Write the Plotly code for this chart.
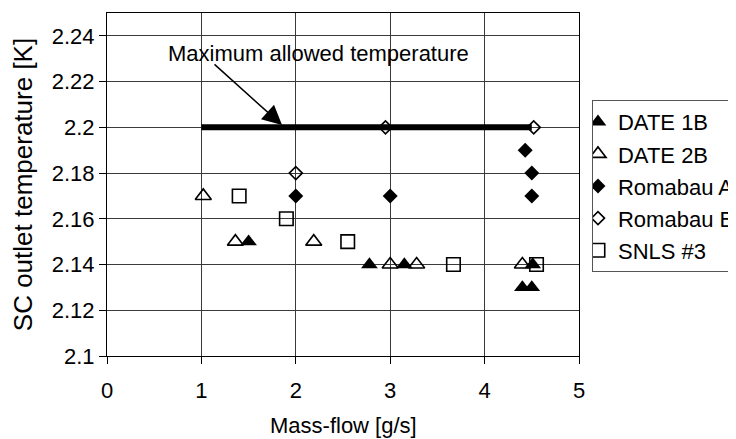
import plotly.graph_objects as go

# Data
date1b_x = [1.50, 2.78, 3.15, 4.51, 4.40, 4.50]
date1b_y = [2.15, 2.14, 2.14, 2.14, 2.13, 2.13]

date2b_x = [1.02, 1.36, 2.19, 3.00, 3.28, 4.40]
date2b_y = [2.17, 2.15, 2.15, 2.14, 2.14, 2.14]

romA_x = [2.00, 3.00, 4.43, 4.50, 4.50]
romA_y = [2.17, 2.17, 2.19, 2.18, 2.17]

romB_x = [2.00, 2.95, 4.52]
romB_y = [2.18, 2.20, 2.20]

snls_x = [1.40, 1.90, 2.55, 3.67, 4.55]
snls_y = [2.17, 2.16, 2.15, 2.14, 2.14]

maxT_x = [1.0, 4.5]
maxT_y = [2.2, 2.2]

x_ticks = [0, 1, 2, 3, 4, 5]
y_ticks = [2.10, 2.12, 2.14, 2.16, 2.18, 2.20, 2.22, 2.24]
y_tick_text = ["2.1", "2.12", "2.14", "2.16", "2.18", "2.2", "2.22", "2.24"]

FONT = "Liberation Sans, Arial, sans-serif"
GRID = "#3a3a3a"

fig = go.Figure()

fig.add_trace(go.Scatter(
    x=maxT_x, y=maxT_y, mode="lines", line=dict(color="black", width=6),
    showlegend=False, hoverinfo="skip"))

fig.add_trace(go.Scatter(
    x=date1b_x, y=date1b_y, mode="markers", name="DATE 1B", legendgroup="a",
    marker=dict(symbol="triangle-up", size=14.5, color="black")))
fig.add_trace(go.Scatter(
    x=date2b_x, y=date2b_y, mode="markers", name="DATE 2B", legendgroup="b",
    marker=dict(symbol="triangle-up-open", size=14, color="black", line=dict(width=1.6))))
fig.add_trace(go.Scatter(
    x=romA_x, y=romA_y, mode="markers", name="Romabau A", legendgroup="c",
    marker=dict(symbol="diamond", size=11.5, color="black")))
fig.add_trace(go.Scatter(
    x=romB_x, y=romB_y, mode="markers", name="Romabau B", legendgroup="d",
    marker=dict(symbol="diamond-open", size=10, color="black", line=dict(width=1.6))))
fig.add_trace(go.Scatter(
    x=snls_x, y=snls_y, mode="markers", name="SNLS #3", legendgroup="e",
    marker=dict(symbol="square-open", size=13.5, color="black", line=dict(width=1.6))))

fig.add_annotation(
    x=2.245, y=2.2325, xref="x", yref="y", text="Maximum allowed temperature",
    showarrow=False, font=dict(family=FONT, size=22, color="black"))
fig.add_annotation(
    x=1.854, y=2.201, ax=1.123, ay=2.2281, xref="x", yref="y", axref="x", ayref="y",
    text="", showarrow=True, arrowhead=2, arrowsize=2.6, arrowwidth=1.5, arrowcolor="black")
# x-axis title placed as a paper annotation for precise placement
fig.add_annotation(
    x=0.5, y=-0.204, xref="paper", yref="paper", yanchor="middle", xanchor="center",
    text="Mass-flow [g/s]", showarrow=False, font=dict(family=FONT, size=22, color="black"))

# The page body adds an 8px offset, so margins are shifted by 8px
fig.update_layout(
    width=736, height=439,
    margin=dict(l=99, r=165, t=5, b=91, autoexpand=False),
    paper_bgcolor="white", plot_bgcolor="white",
    font=dict(family=FONT, size=22, color="black"),
    legend=dict(
        x=1.0275, y=0.7463, xanchor="left", yanchor="top",
        bordercolor="#555555", borderwidth=1, bgcolor="white",
        font=dict(family=FONT, size=22, color="black"),
        tracegroupgap=0.5, itemwidth=30, indentation=-15),
    xaxis=dict(
        range=[0, 5], tickvals=x_ticks, showgrid=True, gridcolor=GRID, gridwidth=1,
        showline=True, linecolor="black", linewidth=1, mirror=True,
        ticks="outside", ticklen=7, tickcolor="black", zeroline=False,
        ticklabelstandoff=8),
    yaxis=dict(
        range=[2.1, 2.25], tickvals=y_ticks, ticktext=y_tick_text,
        showgrid=True, gridcolor=GRID, gridwidth=1,
        showline=True, linecolor="black", linewidth=1, mirror=True,
        ticks="outside", ticklen=7, tickcolor="black", zeroline=False,
        title=dict(text="SC outlet temperature [K]", standoff=15)),
)

fig.write_html("out.html")
